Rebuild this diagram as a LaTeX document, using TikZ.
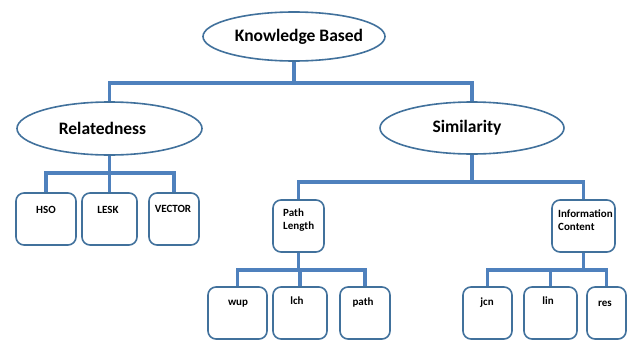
\documentclass[tikz,border=0pt]{standalone}
\usepackage{fontspec}
\setmainfont{Carlito}
\usetikzlibrary{shapes.geometric}
\definecolor{conncol}{RGB}{79,129,189}
\definecolor{edgecol}{RGB}{65,113,156}
\tikzset{
  ell/.style={ellipse, draw=edgecol, line width=1.6pt, fill=white, inner sep=0pt,
    inner xsep=-15pt, font=\bfseries\fontsize{17.5}{20}\selectfont},
  leaf/.style={rectangle, rounded corners=8pt, draw=edgecol, line width=1.6pt,
    fill=white, inner sep=0pt, minimum height=52pt},
  lbl/.style={font=\bfseries\fontsize{11}{12}\selectfont, anchor=base, inner sep=0pt},
  lbltwo/.style={font=\bfseries\fontsize{11}{13}\selectfont, anchor=north west,
    align=left, inner sep=0pt},
  conn/.style={draw=conncol, line width=3.3pt},
}
\begin{document}
\begin{tikzpicture}[x=1pt,y=-1pt]
\useasboundingbox (0,0) rectangle (631,343);
% ellipses
\node[ell, minimum width=182pt, minimum height=49pt] (kb) at (294,36.5) {\hspace*{10pt}Knowledge Based};
\node[ell, minimum width=185pt, minimum height=53pt] (rel) at (109.5,128.5) {\hspace*{-14pt}Relatedness};
\node[ell, minimum width=184pt, minimum height=52pt] (sim) at (472,128) {\hspace*{-10pt}Similarity};
% leaf boxes
\node[leaf, minimum width=60pt] (hso) at (46,219) {};
\node[leaf, minimum width=55pt] (lesk) at (109.5,219) {};
\node[leaf, minimum width=50pt] (vector) at (174,219) {};
\node[leaf, minimum width=51pt] (pl) at (298.5,226) {};
\node[leaf, minimum width=63pt] (ic) at (583.5,226) {};
\node[leaf, minimum width=59pt] (wup) at (237.5,313) {};
\node[leaf, minimum width=54pt] (lch) at (300,313) {};
\node[leaf, minimum width=50pt] (path) at (365,313) {};
\node[leaf, minimum width=49pt] (jcn) at (487.5,313) {};
\node[leaf, minimum width=53pt] (lin) at (550.5,313) {};
\node[leaf, minimum width=39pt] (res) at (606.5,313) {};
% labels
\node[lbl] (thso) at (46,213) {HSO};
\node[lbl] (tlesk) at (108,213) {LESK};
\node[lbl] (tvector) at (173,212) {VECTOR};
\node[lbltwo] (tpl) at (283,209) {Path\\Length};
\node[lbltwo] (tic) at (558,210) {Information\\Content};
\node[lbl] (twup) at (238,305) {wup};
\node[lbl] (tlch) at (297,304) {lch};
\node[lbl] (tpath) at (363,305) {path};
\node[lbl] (tjcn) at (487,305) {jcn};
\node[lbl] (tlin) at (548,304) {lin};
\node[lbl] (tres) at (605,306) {res};
% connectors
\draw[conn] (kb.south) -- (kb.south |- 0,83) -| (rel.north);
\draw[conn] (kb.south) -- (kb.south |- 0,83) -| (sim.north);
\draw[conn] (rel.south) -- (rel.south |- 0,173) -| (hso.north);
\draw[conn] (rel.south) -- (lesk.north);
\draw[conn] (rel.south) -- (rel.south |- 0,173) -| (vector.north);
\draw[conn] (sim.south) -- (sim.south |- 0,182) -| (pl.north);
\draw[conn] (sim.south) -- (sim.south |- 0,182) -| (ic.north);
\draw[conn] (pl.south) -- (pl.south |- 0,270) -| (wup.north);
\draw[conn] (pl.south) -- (pl.south |- 0,270) -| (lch.north);
\draw[conn] (pl.south) -- (pl.south |- 0,270) -| (path.north);
\draw[conn] (ic.south) -- (ic.south |- 0,270) -| (jcn.north);
\draw[conn] (ic.south) -- (ic.south |- 0,270) -| (lin.north);
\draw[conn] (ic.south) -- (ic.south |- 0,270) -| (res.north);
\end{tikzpicture}
\end{document}
